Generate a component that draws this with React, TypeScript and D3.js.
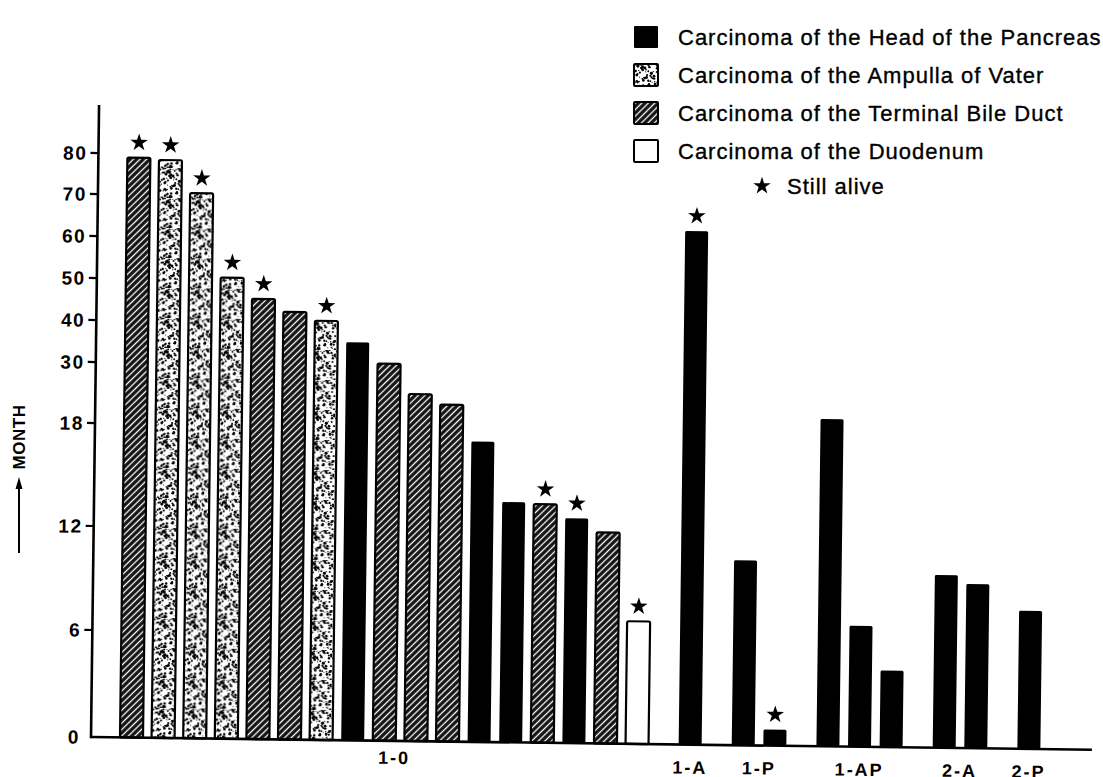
import React from 'react';
import * as d3 from 'd3';

// ---------- data ----------
const groups = ['1-0', '1-A', '1-P', '1-AP', '2-A', '2-P'];
const barGroup = [0, 0, 0, 0, 0, 0, 0, 0, 0, 0, 0, 0, 0, 0, 0, 0, 0, 1, 2, 2, 3, 3, 3, 4, 4, 5];
const barType = [
  'bile', 'ampulla', 'ampulla', 'ampulla', 'bile', 'bile', 'ampulla', 'pancreas', 'bile', 'bile',
  'bile', 'pancreas', 'pancreas', 'bile', 'pancreas', 'bile', 'duodenum', 'pancreas', 'pancreas',
  'pancreas', 'pancreas', 'pancreas', 'pancreas', 'pancreas', 'pancreas', 'pancreas',
];
const months = [
  79, 78.5, 70.5, 50.5, 45.5, 42.5, 40.5, 35.5, 30.5, 24.5, 22.5, 17.2, 13.7, 13.6, 12.8, 12.0, 6.9,
  63, 10.5, 0.9, 20.6, 6.8, 4.3, 9.8, 9.3, 7.8,
];
const stillAlive = [1, 1, 1, 1, 1, 0, 1, 0, 0, 0, 0, 0, 0, 1, 1, 0, 1, 1, 0, 1, 0, 0, 0, 0, 0, 0];
const yTicks = [0, 6, 12, 18, 30, 40, 50, 60, 70, 80];
const legendTypes = ['pancreas', 'ampulla', 'bile', 'duodenum'];
const legendLabels = [
  'Carcinoma of the Head of the Pancreas',
  'Carcinoma of the Ampulla of Vater',
  'Carcinoma of the Terminal Bile Duct',
  'Carcinoma of the Duodenum',
];
const aliveLabel = 'Still alive';
const yTitle = 'MONTH';

// ---------- texture (decorative) ----------
const specks = (() => {
  let s = 424242;
  const nx = () => (s = (s * 16807) % 2147483647) / 2147483647;
  const out: { x: number; y: number; r: number }[] = [];
  for (let i = 0; i < 115; i++) out.push({ x: nx() * 30, y: nx() * 30, r: 0.45 + nx() * 1.05 });
  return out;
})();

const FONT = "'Liberation Sans', Arial, Helvetica, sans-serif";

const fillFor = (t: string) =>
  t === 'pancreas' ? '#000' : t === 'bile' ? 'url(#hatch)' : t === 'ampulla' ? 'url(#stipple)' : '#fff';

export default function App() {
  const slots = months.map((_, i) => i + barGroup[i] * 0.68);
  const x = d3.scaleLinear().domain([0, 1]).range([29, 60.6]);
  const y = d3
    .scaleLinear()
    .domain(yTicks)
    .range([0, -107, -211, -314, -375, -417, -459, -501, -543, -584]);
  const bw = 23;
  const star = d3.symbol().type(d3.symbolStar).size(95)()!;

  const groupCenters = groups.map((_, g) => {
    const idx = months.map((_, i) => i).filter((i) => barGroup[i] === g);
    const a = x(slots[idx[0]]) + bw / 2;
    const b = x(slots[idx[idx.length - 1]]) + bw / 2;
    return (a + b) / 2;
  });

  const rowY = (i: number) => 37 + i * 38;

  return (
    <svg
      width={1103}
      height={777}
      style={{ position: 'absolute', left: 0, top: 0, background: '#fff' }}
      fontFamily={FONT}
    >
      <defs>
        <pattern id="hatch" patternUnits="userSpaceOnUse" width={4.6} height={4.6} patternTransform="rotate(45)">
          <rect width={4.6} height={4.6} fill="#111" />
          <line x1={2.3} y1={-1} x2={2.3} y2={6} stroke="#fff" strokeWidth={1.3} />
        </pattern>
        <pattern id="stipple" patternUnits="userSpaceOnUse" width={30} height={30}>
          <rect width={30} height={30} fill="#fff" />
          {specks.map((p, i) => (
            <circle key={i} cx={p.x} cy={p.y} r={p.r} fill="#000" />
          ))}
        </pattern>
      </defs>

      {/* y title */}
      <g>
        <text
          transform="translate(25,437) rotate(-90)"
          textAnchor="middle"
          fontSize={17}
          fontWeight="bold"
          letterSpacing={0.5}
        >
          {yTitle}
        </text>
        <line x1={19} y1={553} x2={19} y2={486} stroke="#000" strokeWidth={2} />
        <path d="M19,477 L15.5,489 L22.5,489 Z" fill="#000" />
      </g>

      {/* plot, slightly rotated like the scan */}
      <g transform="translate(91,737) rotate(0.73)">
        {months.map((v, i) => {
          const t = barType[i];
          const outlined = t !== 'pancreas';
          return (
            <rect
              key={i}
              x={x(slots[i])}
              y={y(v)}
              width={bw}
              height={-y(v)}
              rx={1.5}
              fill={fillFor(t)}
              stroke={outlined ? '#000' : 'none'}
              strokeWidth={outlined ? 2.2 : 0}
            />
          );
        })}
        {months.map((v, i) =>
          stillAlive[i] ? (
            <path key={'s' + i} d={star} transform={`translate(${x(slots[i]) + bw / 2},${y(v) - 15})`} fill="#000" />
          ) : null
        )}

        {/* axes */}
        <line x1={0} y1={0} x2={1001} y2={0} stroke="#000" strokeWidth={2.6} />
        <line x1={0} y1={1.3} x2={0} y2={-632} stroke="#000" strokeWidth={2.6} />
        {yTicks.map((t) => (
          <g key={t} transform={`translate(0,${y(t)})`}>
            {t !== 0 && <line x1={-8} x2={0} y1={0} y2={0} stroke="#000" strokeWidth={2.2} />}
            <text x={-11} dy="0.36em" textAnchor="end" fontSize={19} fontWeight="bold" letterSpacing={1.6}>
              {t}
            </text>
          </g>
        ))}

        {groups.map((g, gi) => (
          <text
            key={g}
            x={groupCenters[gi] + (gi === 0 ? 10 : 0)}
            y={gi === 0 ? 23 : 29}
            textAnchor="middle"
            fontSize={18}
            fontWeight="bold"
            letterSpacing={2}
          >
            {g}
          </text>
        ))}
      </g>

      {/* legend */}
      <g>
        {legendTypes.map((t, i) => {
          const cy = rowY(i);
          return (
            <g key={t}>
              <rect
                x={634}
                y={cy - 11}
                width={24}
                height={22}
                fill={fillFor(t)}
                stroke="#000"
                strokeWidth={t === 'pancreas' ? 0 : 2}
                rx={1}
              />
              <text x={678} y={cy} dy="0.35em" fontSize={22} letterSpacing={1} stroke="#000" strokeWidth={0.35}>
                {legendLabels[i]}
              </text>
            </g>
          );
        })}
        <path d={star} transform={`translate(762,${rowY(4) - 3})`} fill="#000" />
        <text x={787} y={rowY(4) - 3} dy="0.35em" fontSize={22} letterSpacing={1} stroke="#000" strokeWidth={0.35}>
          {aliveLabel}
        </text>
      </g>
    </svg>
  );
}
